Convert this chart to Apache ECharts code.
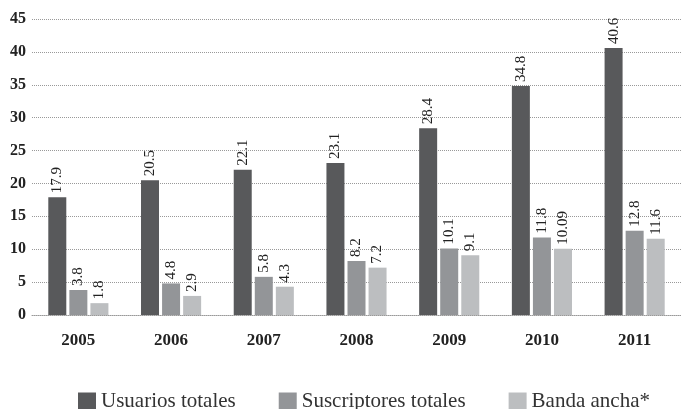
<!DOCTYPE html>
<html>
<head>
<meta charset="utf-8">
<script src="https://cdn.jsdelivr.net/npm/echarts@6/dist/echarts.min.js"></script>
<style>
  html, body { margin: 0; padding: 0; background: #fff; }
  #main { width: 681px; height: 409px; }
</style>
</head>
<body>
<div id="main"></div>
<script>
var years = ["2005", "2006", "2007", "2008", "2009", "2010", "2011"];
var usuarios = [17.9, 20.5, 22.1, 23.1, 28.4, 34.8, 40.6];
var suscriptores = [3.8, 4.8, 5.8, 8.2, 10.1, 11.8, 12.8];
var banda = [1.8, 2.9, 4.3, 7.2, 9.1, 10.09, 11.6];
var seriesNames = ["Usuarios totales", "Suscriptores totales", "Banda ancha*"];
var colors = ["#58595b", "#939598", "#bcbec0"];

var serif = "Liberation Serif";

function barLabel() {
  return {
    show: true,
    position: "top",
    rotate: 90,
    align: "left",
    verticalAlign: "middle",
    distance: 4,
    fontFamily: serif,
    fontSize: 15,
    color: "#222"
  };
}

var myChart = echarts.init(document.getElementById("main"));

myChart.setOption({
  animation: false,
  color: colors,
  // plot runs a bit past the right edge, like the original
  grid: { left: 32, right: -20, top: 19, bottom: 94 },
  legend: {
    data: seriesNames,
    left: 73,
    top: 386,
    itemWidth: 18,
    itemHeight: 18,
    itemGap: 43,
    icon: "rect",
    textStyle: { fontFamily: serif, fontSize: 21, color: "#333" }
  },
  xAxis: {
    type: "category",
    data: years,
    axisLine: { show: true, lineStyle: { color: "#999", type: "dotted", width: 1 } },
    axisTick: { show: false },
    axisLabel: {
      margin: 17,
      fontFamily: serif,
      fontWeight: "bold",
      fontSize: 17,
      color: "#222"
    }
  },
  yAxis: {
    type: "value",
    min: 0,
    max: 45,
    interval: 5,
    axisLine: { show: false },
    axisTick: { show: false },
    axisLabel: {
      margin: 6,
      fontFamily: serif,
      fontWeight: "bold",
      fontSize: 16,
      color: "#222"
    },
    splitLine: { lineStyle: { color: "#999", type: "dotted", width: 1 } }
  },
  series: [
    {
      name: seriesNames[0],
      type: "bar",
      data: usuarios,
      barWidth: 18,
      barGap: "17%",
      label: barLabel()
    },
    {
      name: seriesNames[1],
      type: "bar",
      data: suscriptores,
      barWidth: 18,
      barGap: "17%",
      label: barLabel()
    },
    {
      name: seriesNames[2],
      type: "bar",
      data: banda,
      barWidth: 18,
      barGap: "17%",
      label: barLabel()
    }
  ]
});
</script>
</body>
</html>
